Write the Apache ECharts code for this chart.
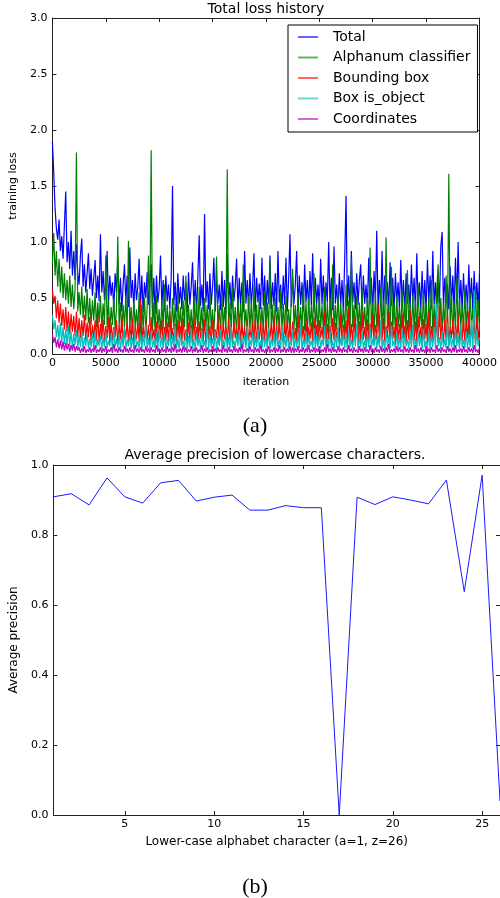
<!DOCTYPE html>
<html>
<head>
<meta charset="utf-8">
<script src="https://cdn.jsdelivr.net/npm/echarts@6/dist/echarts.min.js"></script>
<style>
html,body{margin:0;padding:0;background:#fff;}
#chart{width:500px;height:898px;}
</style>
</head>
<body>
<div id="chart"></div>
<script>
// ---------- Data: (a) Total loss history, sampled every 125 iterations ----------
const iterStep = 125;
const seriesNames = ['Total', 'Alphanum classifier', 'Bounding box', 'Box is_object', 'Coordinates'];
const lossTotal = [
  1.90,1.62,1.30,1.12,1.02,1.20,0.92,1.05,0.85,1.15,1.45,0.82,1.00,0.76,1.10,0.70,0.92,0.66,0.98,0.72,
  0.62,0.88,1.03,0.60,0.80,0.55,0.72,0.90,0.58,0.76,0.52,0.68,0.84,0.50,0.70,0.47,1.07,0.55,0.74,0.48,
  0.66,0.92,0.45,0.70,0.52,0.64,0.40,0.72,0.55,0.85,0.44,0.68,0.38,0.62,0.80,0.46,0.70,0.42,0.95,0.50,
  0.66,0.40,0.72,0.48,0.60,0.85,0.42,0.70,0.37,0.64,0.50,0.73,0.44,0.62,0.80,0.40,0.68,0.36,0.70,0.46,
  0.58,0.88,0.42,0.66,0.38,0.70,0.47,0.62,0.40,0.68,1.50,0.44,0.64,0.38,0.72,0.45,0.60,0.40,0.70,0.48,
  0.63,0.37,0.73,0.44,0.60,0.82,0.40,0.66,0.36,0.70,1.06,0.43,0.62,0.38,1.25,0.46,0.65,0.40,0.72,0.44,
  0.60,0.86,0.38,0.68,0.45,0.62,0.39,0.74,0.42,0.66,0.36,0.90,0.44,0.64,0.40,0.70,0.47,0.60,0.85,0.38,
  0.68,0.43,0.64,0.37,0.92,0.45,0.66,0.40,0.72,0.44,0.60,0.90,0.38,0.68,0.46,0.63,0.40,0.86,0.43,0.70,
  0.37,0.66,0.45,0.88,0.40,0.64,0.43,0.72,0.38,0.92,0.46,0.62,0.40,0.70,0.44,0.86,0.38,0.66,1.07,0.42,
  0.68,0.45,0.62,0.92,0.39,0.70,0.44,0.64,0.38,0.80,0.46,0.66,0.40,0.74,0.43,0.90,0.37,0.68,0.45,0.62,
  0.40,0.85,0.44,0.70,0.38,0.64,0.46,1.00,0.42,0.68,0.39,0.96,0.45,0.62,0.40,0.72,0.44,0.66,0.38,0.84,
  1.41,0.43,0.70,0.37,0.92,0.46,0.64,0.40,0.72,0.44,0.66,0.80,0.38,0.70,0.45,0.62,0.41,0.86,0.44,0.68,
  0.38,0.74,0.46,1.10,0.40,0.66,0.44,0.92,0.37,0.70,0.45,0.64,0.40,0.82,0.43,0.68,0.38,0.72,0.46,0.64,
  0.40,0.84,0.44,0.66,0.37,0.72,0.45,0.62,0.41,0.80,0.46,0.68,0.38,0.90,0.44,0.64,0.40,0.74,0.43,0.66,
  0.38,0.84,0.46,0.70,0.40,0.92,0.44,0.64,0.37,0.72,0.45,0.96,1.09,0.42,0.68,0.46,0.62,0.40,0.78,0.44,
  0.70,0.38,0.86,0.45,1.00,0.42,0.66,0.39,0.72,0.46,0.62,0.40,0.80,0.44,0.68,0.38,0.74,0.45,0.64,0.41,0.72
];
const lossAlphanum = [
  0.80,1.08,0.70,0.92,0.60,0.85,0.55,0.78,0.50,0.72,0.48,0.66,0.45,0.70,0.42,0.62,0.40,0.58,1.80,0.38,
  0.55,0.35,0.60,0.32,0.52,0.30,0.58,0.28,0.50,0.26,0.48,0.30,0.55,0.24,0.46,0.28,0.52,0.22,0.45,0.26,
  0.88,0.24,0.48,0.20,0.42,0.26,0.50,0.22,0.40,1.05,0.25,0.46,0.19,0.44,0.24,0.52,0.20,1.01,0.23,0.42,
  0.18,0.48,0.24,0.40,0.20,0.55,0.17,0.44,0.22,0.50,0.19,0.42,0.88,0.25,1.82,0.21,0.46,0.18,0.52,0.23,
  0.40,0.17,0.48,0.22,0.62,0.19,0.44,0.24,0.40,0.18,0.50,0.22,0.45,0.16,0.55,0.21,0.42,0.19,0.48,0.24,
  0.70,0.18,0.44,0.22,0.40,0.17,0.52,0.23,0.46,0.19,0.60,0.21,0.42,0.16,0.50,0.24,0.44,0.18,0.55,0.22,
  0.40,0.19,0.48,0.87,0.21,0.44,0.17,0.52,0.24,0.42,0.18,1.65,0.22,0.46,0.19,0.60,0.23,0.42,0.17,0.50,
  0.22,0.45,0.19,0.80,0.24,0.40,0.18,0.52,0.21,0.46,0.17,0.62,0.23,0.44,0.19,0.50,0.22,0.42,0.18,0.56,
  0.24,0.46,0.20,0.84,0.22,0.44,0.17,0.50,0.23,0.42,0.19,0.58,0.21,0.45,0.18,0.52,0.24,0.40,0.20,0.48,
  0.76,0.22,0.44,0.18,0.55,0.23,0.42,0.19,0.62,0.21,0.46,0.17,0.50,0.24,0.43,0.20,0.72,0.22,0.45,0.18,
  0.52,0.23,0.44,0.19,0.60,0.21,0.46,0.17,0.50,0.24,0.80,0.20,0.44,0.22,0.55,0.18,0.46,0.23,0.42,0.19,
  0.62,0.21,0.48,0.17,0.85,0.24,0.44,0.20,0.52,0.22,0.46,0.18,0.58,0.23,0.42,0.19,0.50,0.21,0.95,0.20,
  0.46,0.18,0.55,0.24,0.44,0.20,0.60,0.22,0.48,0.17,1.04,0.23,0.44,0.19,0.78,0.21,0.46,0.18,0.52,0.24,
  0.42,0.20,0.58,0.22,0.46,0.17,0.75,0.23,0.44,0.19,0.52,0.21,0.48,0.18,0.62,0.24,0.42,0.20,0.55,0.22,
  0.46,0.17,0.50,0.23,0.66,0.19,0.44,0.21,0.58,0.80,0.24,0.50,0.18,0.46,0.22,0.70,0.20,1.61,0.23,0.52,
  0.18,0.46,0.22,0.68,0.19,0.50,0.24,0.44,0.20,0.58,0.22,0.46,0.17,0.55,0.23,0.42,0.19,0.60,0.21,0.48,0.20
];
const lossBBox = [
  0.58,0.45,0.52,0.32,0.48,0.28,0.45,0.25,0.40,0.22,0.42,0.20,0.38,0.18,0.36,0.20,0.34,0.16,0.38,0.15,
  0.32,0.14,0.30,0.16,0.35,0.12,0.28,0.15,0.33,0.11,0.26,0.14,0.30,0.12,0.36,0.10,0.27,0.13,0.31,0.11,
  0.25,0.14,0.33,0.10,0.28,0.12,0.24,0.15,0.30,0.09,0.26,0.13,0.34,0.11,0.23,0.14,0.29,0.10,0.27,0.12,
  0.32,0.09,0.25,0.13,0.28,0.11,0.48,0.10,0.24,0.14,0.30,0.12,0.26,0.09,0.33,0.13,0.22,0.11,0.29,0.10,
  0.26,0.14,0.31,0.09,0.24,0.12,0.28,0.10,0.35,0.13,0.23,0.11,0.27,0.09,0.30,0.14,0.25,0.10,0.32,0.12,
  0.22,0.11,0.28,0.13,0.26,0.09,0.33,0.12,0.24,0.10,0.29,0.14,0.23,0.11,0.31,0.09,0.27,0.13,0.25,0.10,
  0.30,0.12,0.22,0.14,0.34,0.09,0.26,0.11,0.28,0.13,0.24,0.10,0.32,0.12,0.25,0.09,0.29,0.14,0.23,0.11,
  0.36,0.10,0.27,0.13,0.24,0.09,0.30,0.12,0.22,0.14,0.28,0.11,0.33,0.10,0.25,0.13,0.29,0.09,0.26,0.12,
  0.31,0.10,0.23,0.14,0.27,0.11,0.34,0.09,0.25,0.13,0.30,0.12,0.24,0.10,0.28,0.14,0.32,0.11,0.26,0.09,
  0.29,0.13,0.23,0.10,0.35,0.12,0.27,0.14,0.25,0.09,0.31,0.11,0.24,0.13,0.28,0.10,0.33,0.12,0.26,0.09,
  0.30,0.14,0.24,0.11,0.38,0.10,0.27,0.13,0.25,0.09,0.32,0.12,0.28,0.14,0.23,0.10,0.36,0.11,0.26,0.13,
  0.30,0.09,0.42,0.12,0.27,0.10,0.33,0.14,0.25,0.11,0.29,0.09,0.38,0.13,0.24,0.10,0.31,0.12,0.27,0.14,
  0.35,0.10,0.26,0.13,0.45,0.09,0.28,0.12,0.32,0.11,0.25,0.14,0.37,0.10,0.29,0.13,0.24,0.09,0.33,0.12,
  0.27,0.11,0.36,0.14,0.25,0.10,0.30,0.13,0.40,0.09,0.26,0.12,0.29,0.11,0.34,0.14,0.24,0.10,0.31,0.13,
  0.27,0.09,0.38,0.12,0.25,0.11,0.33,0.14,0.29,0.10,0.44,0.13,0.26,0.09,0.31,0.12,0.36,0.11,0.24,0.14,
  0.30,0.10,0.27,0.13,0.35,0.09,0.25,0.12,0.32,0.11,0.28,0.14,0.38,0.10,0.26,0.13,0.30,0.09,0.34,0.12,0.27
];
const lossIsObject = [
  0.35,0.22,0.30,0.15,0.26,0.12,0.28,0.10,0.24,0.09,0.22,0.08,0.25,0.07,0.20,0.06,0.18,0.08,0.22,0.05,
  0.17,0.06,0.20,0.04,0.15,0.07,0.19,0.05,0.14,0.06,0.18,0.04,0.21,0.05,0.13,0.07,0.17,0.04,0.15,0.06,
  0.20,0.05,0.12,0.07,0.18,0.04,0.22,0.06,0.14,0.05,0.19,0.03,0.16,0.06,0.24,0.04,0.13,0.07,0.18,0.05,
  0.15,0.04,0.21,0.06,0.12,0.05,0.19,0.03,0.17,0.07,0.26,0.05,0.14,0.04,0.20,0.06,0.13,0.05,0.18,0.04,
  0.22,0.06,0.15,0.05,0.19,0.03,0.13,0.07,0.21,0.04,0.16,0.06,0.25,0.05,0.14,0.04,0.18,0.07,0.12,0.05,
  0.20,0.04,0.16,0.06,0.23,0.05,0.13,0.03,0.19,0.07,0.15,0.04,0.21,0.06,0.12,0.05,0.27,0.04,0.17,0.06,
  0.14,0.05,0.20,0.03,0.16,0.07,0.22,0.04,0.13,0.06,0.19,0.05,0.15,0.04,0.24,0.06,0.12,0.05,0.18,0.07,
  0.21,0.04,0.14,0.06,0.17,0.05,0.25,0.03,0.13,0.07,0.20,0.04,0.16,0.06,0.22,0.05,0.12,0.04,0.19,0.06,
  0.15,0.05,0.23,0.04,0.14,0.07,0.18,0.03,0.21,0.06,0.13,0.05,0.26,0.04,0.16,0.06,0.19,0.05,0.12,0.07,
  0.22,0.04,0.15,0.06,0.18,0.05,0.28,0.03,0.14,0.06,0.20,0.04,0.17,0.07,0.12,0.05,0.23,0.04,0.16,0.06,
  0.19,0.05,0.13,0.07,0.25,0.04,0.15,0.06,0.21,0.05,0.12,0.03,0.18,0.06,0.24,0.04,0.14,0.07,0.20,0.05,
  0.16,0.04,0.22,0.06,0.13,0.05,0.19,0.07,0.27,0.04,0.15,0.06,0.21,0.05,0.12,0.04,0.18,0.06,0.24,0.05,
  0.14,0.07,0.20,0.04,0.16,0.06,0.30,0.05,0.13,0.04,0.22,0.06,0.17,0.05,0.25,0.07,0.12,0.04,0.19,0.06,
  0.15,0.05,0.23,0.04,0.18,0.07,0.13,0.05,0.21,0.06,0.26,0.04,0.14,0.05,0.19,0.07,0.16,0.04,0.22,0.06,
  0.12,0.05,0.20,0.04,0.17,0.06,0.24,0.05,0.45,0.07,0.15,0.04,0.21,0.06,0.13,0.05,0.28,0.04,0.18,0.06,
  0.14,0.05,0.22,0.07,0.16,0.04,0.25,0.06,0.13,0.05,0.20,0.04,0.18,0.06,0.30,0.05,0.57,0.04,0.22,0.07,0.15
];
const lossCoords = [
  0.18,0.10,0.15,0.06,0.13,0.05,0.12,0.04,0.11,0.03,0.10,0.04,0.09,0.02,0.08,0.03,0.09,0.02,0.07,0.03,
  0.06,0.01,0.05,0.02,0.07,0.01,0.04,0.02,0.06,0.01,0.05,0.02,0.08,0.01,0.04,0.02,0.06,0.01,0.05,0.02,
  0.07,0.01,0.04,0.02,0.06,0.01,0.09,0.02,0.05,0.01,0.06,0.02,0.04,0.01,0.07,0.02,0.05,0.01,0.06,0.02,
  0.04,0.01,0.08,0.02,0.05,0.01,0.06,0.02,0.04,0.01,0.07,0.02,0.05,0.01,0.06,0.02,0.04,0.01,0.08,0.02,
  0.05,0.01,0.06,0.02,0.04,0.01,0.07,0.02,0.05,0.01,0.06,0.02,0.09,0.01,0.04,0.02,0.05,0.01,0.07,0.02,
  0.06,0.01,0.04,0.02,0.07,0.01,0.05,0.02,0.06,0.01,0.04,0.02,0.08,0.01,0.05,0.02,0.06,0.01,0.04,0.02,
  0.07,0.02,0.05,0.01,0.06,0.02,0.04,0.01,0.08,0.02,0.05,0.01,0.06,0.02,0.04,0.01,0.07,0.02,0.05,0.01,
  0.06,0.02,0.09,0.01,0.04,0.02,0.05,0.01,0.07,0.02,0.04,0.01,0.06,0.02,0.05,0.01,0.08,0.02,0.04,0.01,
  0.05,0.02,0.07,0.01,0.04,0.02,0.06,0.01,0.05,0.02,0.08,0.01,0.04,0.02,0.06,0.01,0.05,0.02,0.07,0.01,
  0.06,0.01,0.05,0.02,0.07,0.01,0.04,0.02,0.06,0.01,0.05,0.02,0.08,0.01,0.04,0.02,0.06,0.01,0.05,0.02,
  0.07,0.01,0.04,0.02,0.06,0.01,0.09,0.02,0.05,0.01,0.06,0.02,0.04,0.01,0.07,0.02,0.05,0.01,0.06,0.02,
  0.04,0.01,0.08,0.02,0.05,0.01,0.06,0.02,0.04,0.01,0.07,0.02,0.05,0.01,0.06,0.02,0.04,0.01,0.08,0.02,
  0.05,0.01,0.06,0.02,0.04,0.01,0.07,0.02,0.05,0.01,0.06,0.02,0.09,0.01,0.04,0.02,0.05,0.01,0.07,0.02,
  0.06,0.02,0.04,0.01,0.07,0.02,0.05,0.01,0.06,0.02,0.04,0.01,0.08,0.02,0.05,0.01,0.06,0.02,0.04,0.01,
  0.07,0.02,0.05,0.01,0.06,0.02,0.04,0.01,0.08,0.02,0.05,0.01,0.06,0.02,0.04,0.01,0.07,0.02,0.05,0.01,
  0.06,0.02,0.08,0.01,0.04,0.02,0.05,0.01,0.07,0.02,0.04,0.01,0.06,0.02,0.05,0.01,0.08,0.02,0.04,0.01,0.06
];
const lossYTicks = [0, 0.5, 1.0, 1.5, 2.0, 2.5, 3.0];
const lossXTicks = [0, 5000, 10000, 15000, 20000, 25000, 30000, 35000, 40000];

// ---------- Data: (b) Average precision of lowercase characters ----------
const letterIndex = [1,2,3,4,5,6,7,8,9,10,11,12,13,14,15,16,17,18,19,20,21,22,23,24,25,26];
const avgPrecision = [0.909,0.918,0.886,0.963,0.909,0.891,0.949,0.956,0.897,0.908,0.914,0.871,0.871,
                      0.884,0.878,0.878,0.0,0.908,0.887,0.909,0.900,0.889,0.957,0.638,0.971,0.04];
const apXTicks = [5, 10, 15, 20, 25];
const apYTicks = [0, 0.2, 0.4, 0.6, 0.8, 1.0];

// ---------- Chart ----------
const FONT = 'DejaVu Sans';
const colors = ['#0000ff', '#008000', '#ff0000', '#00bfbf', '#bf00bf'];
const lossSeries = [lossTotal, lossAlphanum, lossBBox, lossIsObject, lossCoords];
const AX = '#222';

function frameAxis(base) {
  return Object.assign({
    axisLine: {show: true, onZero: false, lineStyle: {color: AX, width: 1}},
    splitLine: {show: false},
    axisLabel: {show: false}
  }, base);
}
const tick = vals => ({show: true, inside: true, length: 4, lineStyle: {color: AX}, customValues: vals});
const fmt1 = v => v.toFixed(1);
const fmtInt = v => String(Math.round(v));

const chart = echarts.init(document.getElementById('chart'), null, {renderer: 'canvas'});
chart.setOption({
  animation: false,
  backgroundColor: '#fff',
  textStyle: {fontFamily: FONT},
  grid: [
    {left: 49, top: 18, width: 434, height: 336},
    {left: 50, top: 465, width: 450.5, height: 350}
  ],
  legend: {
    show: true,
    orient: 'vertical',
    left: 288, top: 25,
    padding: [5, 7, 6, 10],
    itemGap: 6.5,
    icon: 'rect',
    itemWidth: 20, itemHeight: 2,
    itemStyle: {opacity: 0.6},
    backgroundColor: '#fff',
    borderColor: '#000', borderWidth: 1, borderRadius: 0,
    textStyle: {fontFamily: FONT, fontSize: 14, color: '#000', padding: [0, 0, 0, 10]},
    data: seriesNames
  },
  graphic: [
    {type: 'text', x: 266, y: 9, style: {text: 'Total loss history', font: '14px "DejaVu Sans"', fill: '#000', align: 'center', verticalAlign: 'middle'}},
    {type: 'text', x: 275, y: 455, style: {text: 'Average precision of lowercase characters.', font: '14px "DejaVu Sans"', fill: '#000', align: 'center', verticalAlign: 'middle'}},
    {type: 'text', x: 255, y: 426, style: {text: '(a)', font: '22px "Liberation Serif"', fill: '#000', align: 'center', verticalAlign: 'middle'}},
    {type: 'text', x: 255, y: 887, style: {text: '(b)', font: '22px "Liberation Serif"', fill: '#000', align: 'center', verticalAlign: 'middle'}}
  ],
  xAxis: [
    frameAxis({type: 'value', gridIndex: 0, position: 'bottom', min: 0, max: 40000,
      name: 'iteration', nameLocation: 'middle', nameGap: 23,
      nameTextStyle: {fontFamily: FONT, fontSize: 11, color: '#000'},
      axisTick: tick(lossXTicks),
      axisLabel: {show: true, margin: 4, fontFamily: FONT, fontSize: 11, color: '#000', formatter: fmtInt, customValues: lossXTicks}}),
    frameAxis({type: 'value', gridIndex: 0, position: 'top', min: 0, max: 40000, axisTick: tick(lossXTicks)}),
    frameAxis({type: 'value', gridIndex: 1, position: 'bottom', min: 1, max: 26,
      name: 'Lower-case alphabet character (a=1, z=26)', nameLocation: 'middle', nameGap: 21,
      nameTextStyle: {fontFamily: FONT, fontSize: 12, color: '#000'},
      axisTick: tick(apXTicks),
      axisLabel: {show: true, margin: 4, fontFamily: FONT, fontSize: 11, color: '#000', formatter: fmtInt, customValues: apXTicks}}),
    frameAxis({type: 'value', gridIndex: 1, position: 'top', min: 1, max: 26, axisTick: tick(apXTicks)})
  ],
  yAxis: [
    frameAxis({type: 'value', gridIndex: 0, position: 'left', min: 0, max: 3,
      name: 'training loss', nameLocation: 'middle', nameGap: 25, nameRotate: 90,
      nameTextStyle: {fontFamily: FONT, fontSize: 11, color: '#000'},
      axisTick: tick(lossYTicks),
      axisLabel: {show: true, margin: 5, fontFamily: FONT, fontSize: 11, color: '#000', formatter: fmt1, customValues: lossYTicks}}),
    frameAxis({type: 'value', gridIndex: 0, position: 'right', min: 0, max: 3, axisTick: tick(lossYTicks)}),
    frameAxis({type: 'value', gridIndex: 1, position: 'left', min: 0, max: 1,
      name: 'Average precision', nameLocation: 'middle', nameGap: 24, nameRotate: 90,
      nameTextStyle: {fontFamily: FONT, fontSize: 12, color: '#000'},
      axisTick: tick(apYTicks),
      axisLabel: {show: true, margin: 5, fontFamily: FONT, fontSize: 11, color: '#000', formatter: fmt1, customValues: apYTicks}}),
    frameAxis({type: 'value', gridIndex: 1, position: 'right', min: 0, max: 1, axisTick: tick(apYTicks)})
  ],
  series: lossSeries.map((arr, k) => ({
    name: seriesNames[k],
    type: 'line',
    xAxisIndex: 0, yAxisIndex: 0,
    data: arr.map((v, i) => [i * iterStep, v]),
    symbol: 'none',
    clip: true,
    lineStyle: {color: colors[k], width: 1.2},
    itemStyle: {color: colors[k]},
    z: 2 + k
  })).concat([{
    name: 'AP',
    type: 'line',
    xAxisIndex: 2, yAxisIndex: 2,
    data: letterIndex.map((x, i) => [x, avgPrecision[i]]),
    symbol: 'none',
    clip: true,
    lineStyle: {color: '#1a1aff', width: 1},
    itemStyle: {color: '#1a1aff'}
  }])
});
</script>
</body>
</html>
